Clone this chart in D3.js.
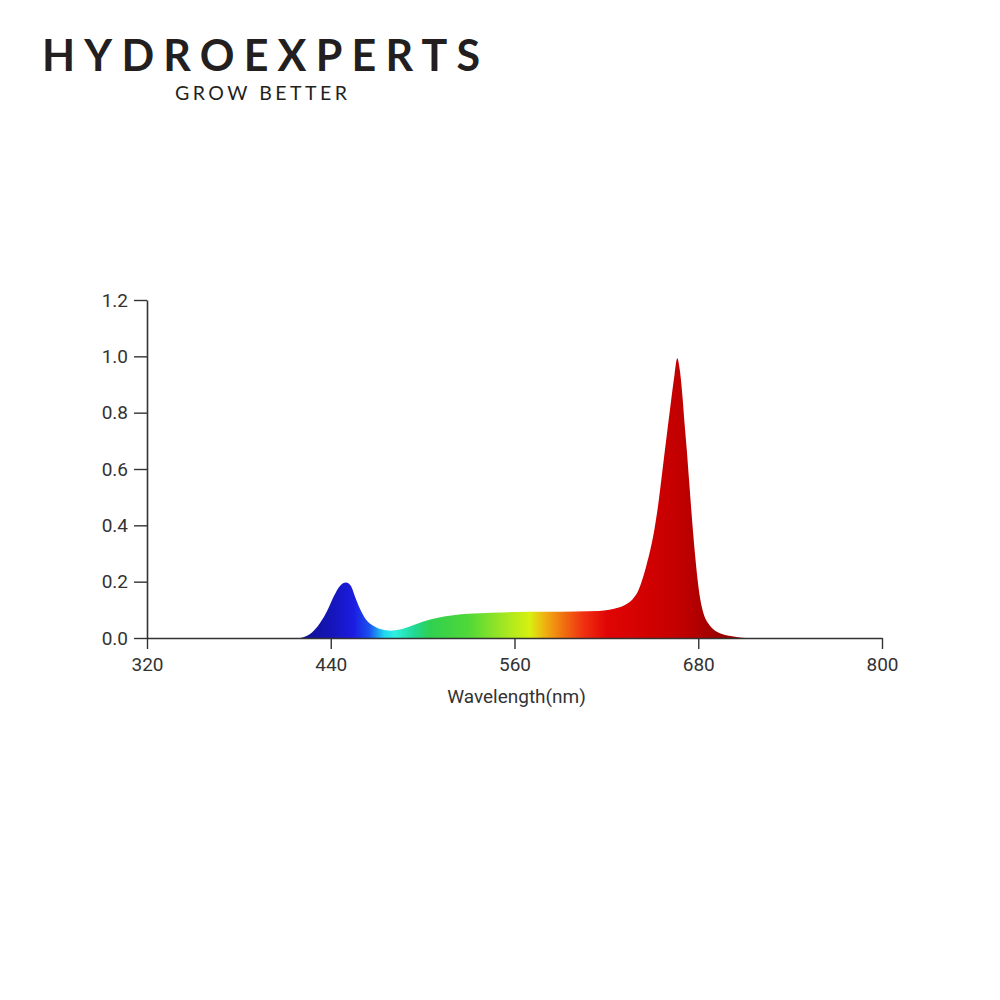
<!DOCTYPE html>
<html>
<head>
<meta charset="utf-8">
<script src="https://cdn.jsdelivr.net/npm/d3@7"></script>
<style>
  html, body { margin: 0; padding: 0; background: #fff; }
  svg { display: block; }
</style>
</head>
<body>
<svg id="chart" width="1000" height="1000"></svg>
<script>
// ---- Data ----
const wavelengths = [420, 426, 433, 438, 442, 446, 450, 453, 456, 459, 463, 468, 473, 479, 485, 492, 500, 510, 520, 530, 545, 560, 580, 600, 615, 622, 628, 633, 637, 641, 643, 646, 649, 651.5, 653.5, 655.5, 657.5, 660, 662.2, 664.5, 666.3, 668, 669.8, 671, 672.4, 674, 676.4, 678, 679.6, 681.1, 683.3, 686.5, 690, 695, 700, 706, 711];
const intensity   = [0, 0.012, 0.053, 0.10, 0.148, 0.185, 0.197, 0.186, 0.145, 0.105, 0.066, 0.043, 0.031, 0.026, 0.030, 0.042, 0.058, 0.072, 0.081, 0.086, 0.090, 0.092, 0.093, 0.094, 0.096, 0.100, 0.108, 0.120, 0.137, 0.170, 0.200, 0.255, 0.320, 0.390, 0.460, 0.545, 0.635, 0.745, 0.840, 0.935, 0.993, 0.950, 0.850, 0.765, 0.675, 0.560, 0.390, 0.290, 0.205, 0.145, 0.090, 0.052, 0.030, 0.015, 0.008, 0.003, 0];
const xTicks = [320, 440, 560, 680, 800];
const yTicks = [0, 0.2, 0.4, 0.6, 0.8, 1.0, 1.2];
const colorStopsNm = [420, 440, 455, 465, 475, 482, 495, 505, 530, 555, 570, 580, 592, 605, 620, 650, 670, 690, 711];
const colorStopsHex = ["#101090", "#1515b8", "#1c1ce0", "#1a50f0", "#20d8f0", "#30f0e0", "#20d890", "#30d050", "#50d838", "#a8e820", "#d8f010", "#f0b010", "#f07010", "#f03010", "#e00505", "#d00000", "#c00000", "#a00000", "#900000"];
const xLabel = "Wavelength(nm)";
const brandTitle = "HYDROEXPERTS";
const brandSub = "GROW BETTER";

const data = wavelengths.map((w, i) => ({ w, v: intensity[i] }));

const svg = d3.select("#chart");

// ---- Logo ----
svg.append("text")
  .attr("x", 42).attr("y", 71)
  .attr("textLength", 438).attr("lengthAdjust", "spacing")
  .style("font-family", "Lato, 'DejaVu Sans', sans-serif")
  .style("font-weight", 700)
  .style("font-size", "43px")
  .style("fill", "#231f20")
  .text(brandTitle);
svg.append("text")
  .attr("x", 175).attr("y", 100)
  .attr("textLength", 172).attr("lengthAdjust", "spacing")
  .style("font-family", "Lato, 'DejaVu Sans', sans-serif")
  .style("font-weight", 400)
  .style("font-size", "19.5px")
  .style("fill", "#231f20")
  .text(brandSub);

// ---- Scales ----
const x = d3.scaleLinear().domain([320, 800]).range([147, 882]);
const y = d3.scaleLinear().domain([0, 1.2]).range([638, 300]);

// ---- Gradient ----
const defs = svg.append("defs");
const grad = defs.append("linearGradient")
  .attr("id", "spec")
  .attr("gradientUnits", "userSpaceOnUse")
  .attr("x1", x(colorStopsNm[0])).attr("x2", x(colorStopsNm[colorStopsNm.length - 1]))
  .attr("y1", 0).attr("y2", 0);
const span = colorStopsNm[colorStopsNm.length - 1] - colorStopsNm[0];
colorStopsNm.forEach((nm, i) => {
  grad.append("stop")
    .attr("offset", (nm - colorStopsNm[0]) / span)
    .attr("stop-color", colorStopsHex[i]);
});

// ---- Area ----
const area = d3.area()
  .x(d => x(d.w))
  .y0(y(0))
  .y1(d => y(d.v))
  .curve(d3.curveMonotoneX);

svg.append("path")
  .datum(data)
  .attr("d", area)
  .attr("fill", "url(#spec)");

// ---- Axes ----
const axisFont = "Roboto, 'Liberation Sans', sans-serif";
const xAxis = svg.append("g")
  .attr("transform", `translate(0,${y(0)})`)
  .call(d3.axisBottom(x).tickValues(xTicks).tickSize(11).tickSizeOuter(0).tickPadding(9).tickFormat(d3.format("d")));
const yAxis = svg.append("g")
  .attr("transform", `translate(${x(320)},0)`)
  .call(d3.axisLeft(y).tickValues(yTicks).tickSize(13).tickSizeOuter(0).tickPadding(6).tickFormat(d3.format(".1f")));

[xAxis, yAxis].forEach(g => {
  g.select(".domain").attr("stroke", "#333").attr("stroke-width", 1.6);
  g.selectAll(".tick line").attr("stroke", "#333").attr("stroke-width", 1.4);
  g.selectAll(".tick text")
    .style("font-family", axisFont)
    .style("font-size", "19px")
    .attr("fill", "#333");
});

svg.append("text")
  .attr("x", (x(320) + x(800)) / 2 + 2)
  .attr("y", 703)
  .attr("text-anchor", "middle")
  .style("font-family", axisFont)
  .style("font-size", "19px")
  .style("fill", "#333")
  .text(xLabel);
</script>
</body>
</html>
